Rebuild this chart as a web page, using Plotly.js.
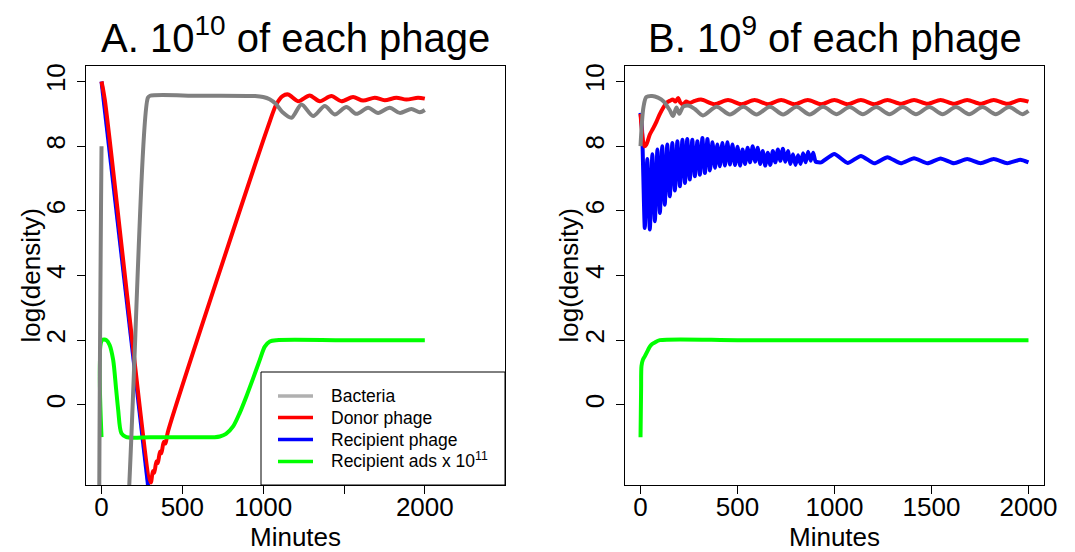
<!DOCTYPE html>
<html>
<head>
<meta charset="utf-8">
<script src="https://cdn.plot.ly/plotly-3.0.1.min.js"></script>
<style>html,body{margin:0;padding:0;background:#fff;}#chart{width:1075px;height:552px;}</style>
</head>
<body>
<div id="chart"></div>
<script>
// ---------- Panel A: 10^10 of each phage ----------
const tA_bact  = [0, 6, 150, 287, 300, 600, 950, 1000, 1040, 1080, 1120, 1175, 1237, 1309, 1381, 1443, 1515, 1577, 1649, 1711, 1783, 1845, 1917, 1969, 2000];
const yA_bact  = [8.0, -12, -4.5, 9.5, 9.56, 9.56, 9.55, 9.52, 9.45, 9.3, 9.05, 8.88, 9.29, 8.93, 9.24, 8.98, 9.21, 9.0, 9.19, 9.03, 9.19, 9.03, 9.15, 9.05, 9.12];

const tA_donor = [0, 20, 305, 318, 326, 340, 348, 362, 370, 385, 395, 410, 1031, 1082, 1120, 1155, 1216, 1288, 1350, 1422, 1484, 1556, 1618, 1690, 1752, 1824, 1886, 1958, 2000];
const yA_donor = [10, 9.45, -2.4, -2.05, -2.1, -1.75, -1.8, -1.45, -1.5, -1.15, -1.2, -0.85, 8.62, 9.3, 9.55, 9.6, 9.39, 9.57, 9.39, 9.55, 9.39, 9.52, 9.41, 9.5, 9.42, 9.5, 9.44, 9.5, 9.47];

const tA_recip = [0, 144, 350];
const yA_recip = [10, 3.75, -5.2];

const tA_ads = [0, 4, 31, 50, 72, 90, 103, 123, 154, 300, 500, 700, 732, 770, 814, 855, 896, 940, 979, 1010, 1041, 1082, 1500, 2000];
const yA_ads = [-1.0, 2.0, 2.0, 1.85, 1.39, 0.5, -0.15, -0.88, -1.0, -1.0, -1.0, -1.0, -0.98, -0.9, -0.67, -0.25, 0.26, 0.85, 1.39, 1.8, 1.96, 2.0, 2.0, 2.0];

// ---------- Panel B: 10^9 of each phage ----------
const tB_bact = [0, 15, 30, 60, 90, 120, 150, 168, 185, 200, 220, 250, 280, 322, 392, 461, 530, 598, 667, 735, 804, 872, 941, 1009, 1078, 1146, 1215, 1283, 1352, 1420, 1489, 1557, 1626, 1694, 1763, 1831, 1900, 1968, 2000];
const yB_bact = [8.0, 9.2, 9.52, 9.55, 9.5, 9.38, 9.12, 8.93, 9.2, 9.0, 9.22, 9.25, 9.15, 8.95, 9.22, 8.98, 9.22, 8.98, 9.22, 8.98, 9.22, 8.98, 9.22, 8.99, 9.21, 8.99, 9.21, 8.99, 9.21, 8.99, 9.21, 8.99, 9.21, 8.99, 9.21, 8.99, 9.21, 8.99, 9.09];

const tB_donor = [0, 20, 30, 48, 65, 83, 100, 117, 134, 150, 168, 180, 194, 205, 220, 235, 254, 280, 312, 381, 451, 520, 588, 657, 725, 794, 862, 931, 999, 1068, 1136, 1205, 1273, 1342, 1410, 1479, 1547, 1616, 1684, 1753, 1821, 1890, 1958, 2000];
const yB_donor = [9.0, 8.0, 8.05, 8.36, 8.55, 8.77, 9.0, 9.19, 9.34, 9.4, 9.44, 9.38, 9.49, 9.35, 9.29, 9.38, 9.34, 9.4, 9.44, 9.3, 9.43, 9.3, 9.43, 9.3, 9.43, 9.3, 9.43, 9.3, 9.43, 9.3, 9.43, 9.3, 9.43, 9.31, 9.43, 9.31, 9.43, 9.31, 9.43, 9.31, 9.43, 9.31, 9.43, 9.38];

const tB_recip = [0, 8, 22, 35, 48, 61, 74, 87, 100, 112, 125, 138, 151, 164, 177, 190, 203, 216, 229, 241, 254, 267, 280, 293, 306, 319, 332, 345, 358, 371, 384, 396, 409, 422, 435, 448, 461, 474, 487, 500, 513, 526, 539, 552, 565, 578, 591, 604, 617, 630, 643, 656, 669, 682, 695, 708, 721, 734, 747, 760, 773, 786, 799, 812, 825, 838, 851, 864, 877, 890, 903, 931, 999, 1068, 1136, 1205, 1273, 1342, 1410, 1479, 1547, 1616, 1684, 1753, 1821, 1890, 1958, 2000];
const yB_recip = [9.03, 8.5, 5.47, 7.6, 5.42, 7.75, 5.68, 7.9, 5.93, 8.0, 6.19, 8.05, 6.45, 8.1, 6.63, 8.15, 6.76, 8.2, 6.86, 8.22, 6.97, 8.2, 7.07, 8.15, 7.12, 8.25, 7.17, 8.22, 7.25, 8.12, 7.33, 8.05, 7.38, 8.1, 7.4, 8.12, 7.43, 8.05, 7.42, 7.98, 7.4, 7.9, 7.45, 7.95, 7.5, 8.0, 7.52, 7.95, 7.45, 7.85, 7.4, 7.8, 7.42, 7.85, 7.5, 7.9, 7.55, 7.92, 7.52, 7.85, 7.45, 7.75, 7.42, 7.72, 7.45, 7.78, 7.5, 7.83, 7.55, 7.8, 7.52, 7.5, 7.76, 7.48, 7.7, 7.47, 7.66, 7.47, 7.63, 7.47, 7.62, 7.47, 7.6, 7.47, 7.6, 7.47, 7.58, 7.5];

const tB_ads = [0, 3, 5, 12, 22, 39, 48, 60, 74, 100, 500, 1000, 1500, 2000];
const yB_ads = [-1.0, 0.5, 1.2, 1.39, 1.5, 1.7, 1.8, 1.88, 1.93, 2.0, 2.0, 2.0, 2.0, 2.0];

// ---------- Labels ----------
const seriesNames = ['Bacteria', 'Donor phage', 'Recipient phage', 'Recipient ads x 10<sup>11</sup>'];
const lineColors = ['#808080', '#ff0000', '#0000ff', '#00ff00'];
const legendColors = ['#b0b0b0', '#ff0000', '#0000ff', '#00ff00'];
const yTicks = [0, 2, 4, 6, 8, 10];
const xTicksA = [0, 500, 1000, 1500, 2000];
const xLabelsA = ['0', '500', '1000', '', '2000'];
const xTicksB = [0, 500, 1000, 1500, 2000];
const xLabelsB = ['0', '500', '1000', '1500', '2000'];
const titleA = 'A. 10<sup>10</sup> of each phage';
const titleB = 'B. 10<sup>9</sup> of each phage';
const xTitle = 'Minutes';
const yTitle = 'log(density)';

// plot-area geometry helpers (paper coords of the plotting region)
const W = 1075, H = 552, ML = 86, MR = 31, MT = 66, MB = 67;
const PW = W - ML - MR, PH = H - MT - MB;
const px = function (x) { return (x - ML) / PW; };
const py = function (y) { return (H - MB - y) / PH; };

const LW = 4;
function tr(x, y, c, xa, ya, shape, sm) {
  return {x: x, y: y, type: 'scatter', mode: 'lines', xaxis: xa, yaxis: ya, showlegend: false,
          hoverinfo: 'skip', line: {color: c, width: LW, shape: shape || 'linear', smoothing: sm || 0.8}};
}
const data = [
  tr(tA_recip, yA_recip, lineColors[2], 'x', 'y'),
  tr(tA_donor, yA_donor, lineColors[1], 'x', 'y', 'spline'),
  tr(tA_ads, yA_ads, lineColors[3], 'x', 'y', 'spline'),
  tr(tA_bact, yA_bact, lineColors[0], 'x', 'y', 'spline'),
  tr(tB_recip, yB_recip, lineColors[2], 'x2', 'y2', 'spline', 0.5),
  tr(tB_donor, yB_donor, lineColors[1], 'x2', 'y2', 'spline'),
  tr(tB_ads, yB_ads, lineColors[3], 'x2', 'y2', 'spline'),
  tr(tB_bact, yB_bact, lineColors[0], 'x2', 'y2', 'spline')
];

const axisCommon = {
  ticks: 'outside', ticklen: 8, tickwidth: 1, tickcolor: '#000',
  showline: true, linecolor: '#000', linewidth: 1, mirror: true,
  showgrid: false, zeroline: false, tickfont: {size: 26, color: '#000'}
};
const xA = Object.assign({}, axisCommon, {domain: [0, px(505)], range: [-96, 2496], tickvals: xTicksA, ticktext: xLabelsA,
  anchor: 'y', ticklabelstandoff: -9});
const xB = Object.assign({}, axisCommon, {domain: [px(625), 1], range: [-80, 2080], tickvals: xTicksB, ticktext: xLabelsB,
  anchor: 'y2', ticklabelstandoff: -9});
const yA = Object.assign({}, axisCommon, {domain: [0, 1], range: [-2.48, 10.48], tickvals: yTicks, tickangle: -90, anchor: 'x', ticklabelstandoff: 2});
const yB = Object.assign({}, axisCommon, {domain: [0, 1], range: [-2.48, 10.48], tickvals: yTicks, tickangle: -90, anchor: 'x2', ticklabelstandoff: 2});

// legend (drawn in the box of panel A)
const legRowsY = [396, 417.5, 439.5, 461.5];
const shapes = [{type: 'rect', xref: 'paper', yref: 'paper', x0: px(261), x1: px(505), y0: py(485), y1: py(372),
                 line: {color: '#000', width: 1}, fillcolor: 'rgba(0,0,0,0)'}];
const annotations = [
  {text: titleA, xref: 'paper', yref: 'paper', x: px(295.5), y: py(35), xanchor: 'center', yanchor: 'middle', showarrow: false, font: {size: 40}},
  {text: titleB, xref: 'paper', yref: 'paper', x: px(834.5), y: py(35), xanchor: 'center', yanchor: 'middle', showarrow: false, font: {size: 40}},
  {text: xTitle, xref: 'paper', yref: 'paper', x: px(295.5), y: py(537), xanchor: 'center', yanchor: 'middle', showarrow: false, font: {size: 26}},
  {text: xTitle, xref: 'paper', yref: 'paper', x: px(834.5), y: py(537), xanchor: 'center', yanchor: 'middle', showarrow: false, font: {size: 26}},
  {text: yTitle, xref: 'paper', yref: 'paper', x: px(30), y: 0.5, xanchor: 'center', yanchor: 'middle', textangle: -90, showarrow: false, font: {size: 26}},
  {text: yTitle, xref: 'paper', yref: 'paper', x: px(568), y: 0.5, xanchor: 'center', yanchor: 'middle', textangle: -90, showarrow: false, font: {size: 26}}
];
seriesNames.forEach(function (n, i) {
  shapes.push({type: 'line', xref: 'paper', yref: 'paper', x0: px(278), x1: px(313), y0: py(legRowsY[i]), y1: py(legRowsY[i]),
               line: {color: legendColors[i], width: 3.5}});
  annotations.push({text: n, xref: 'paper', yref: 'paper', x: px(329), y: py(legRowsY[i] - (i === 3 ? 2 : 0)),
                    xanchor: 'left', yanchor: 'middle', showarrow: false, font: {size: 17.5}});
});

const layout = {
  width: W, height: H,
  margin: {l: ML, r: MR, t: MT, b: MB},
  paper_bgcolor: '#fff', plot_bgcolor: '#fff',
  font: {family: '"Liberation Sans", Arial, sans-serif', color: '#000'},
  xaxis: xA, yaxis: yA, xaxis2: xB, yaxis2: yB,
  showlegend: false,
  shapes: shapes,
  annotations: annotations
};
Plotly.newPlot('chart', data, layout, {displayModeBar: false, staticPlot: true});
</script>
</body>
</html>
